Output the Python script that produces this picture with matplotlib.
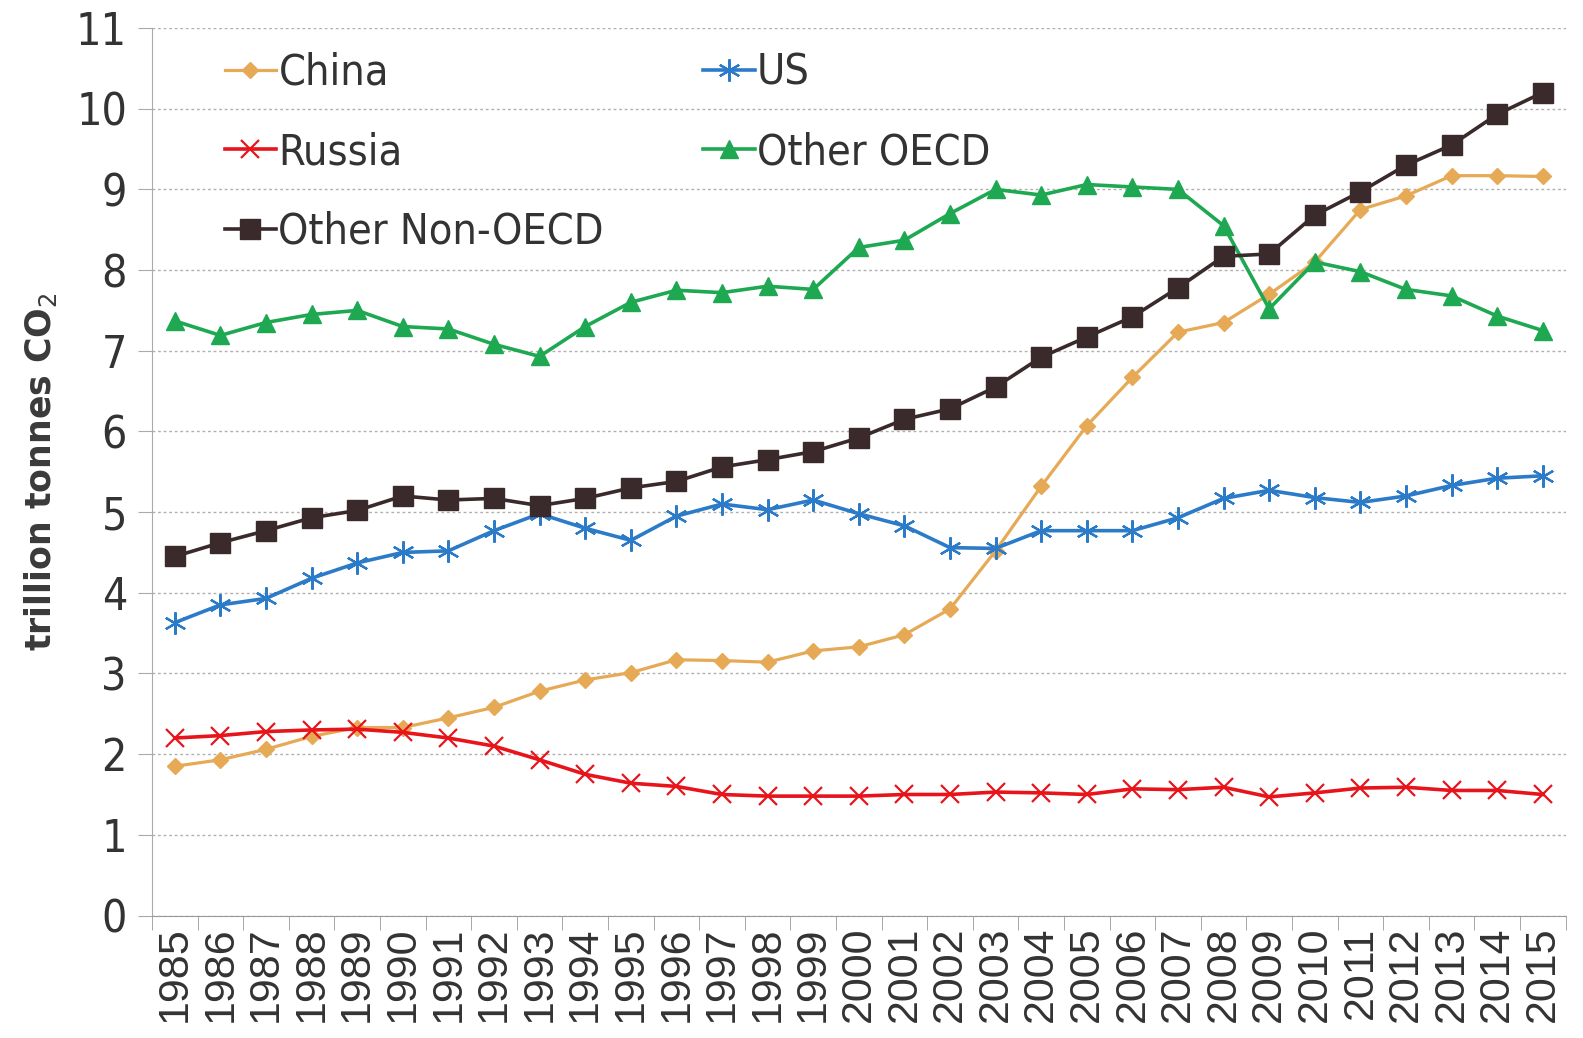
import numpy as np
import matplotlib
matplotlib.use("Agg")
import matplotlib.pyplot as plt
from matplotlib.font_manager import FontProperties

years = list(range(1985, 2016))

china = [1.85, 1.93, 2.06, 2.22, 2.33, 2.33, 2.45, 2.58, 2.78, 2.92, 3.01, 3.17, 3.16, 3.14, 3.28, 3.33,
         3.48, 3.80, 4.52, 5.32, 6.07, 6.67, 7.23, 7.35, 7.70, 8.10, 8.75, 8.92, 9.17, 9.17, 9.16]
us = [3.63, 3.85, 3.93, 4.18, 4.37, 4.50, 4.52, 4.77, 4.98, 4.80, 4.65, 4.95, 5.10, 5.03, 5.15, 4.98,
      4.83, 4.56, 4.55, 4.77, 4.77, 4.77, 4.93, 5.17, 5.27, 5.18, 5.12, 5.20, 5.33, 5.42, 5.45]
russia = [2.20, 2.23, 2.28, 2.30, 2.31, 2.27, 2.20, 2.10, 1.93, 1.75, 1.64, 1.60, 1.50, 1.48, 1.48, 1.48,
          1.50, 1.50, 1.53, 1.52, 1.50, 1.57, 1.56, 1.59, 1.47, 1.52, 1.58, 1.59, 1.55, 1.55, 1.50]
other_oecd = [7.37, 7.19, 7.35, 7.45, 7.50, 7.30, 7.27, 7.08, 6.93, 7.30, 7.60, 7.75, 7.72, 7.80, 7.76, 8.28,
              8.37, 8.70, 9.00, 8.93, 9.06, 9.03, 9.00, 8.55, 7.52, 8.10, 7.98, 7.76, 7.68, 7.43, 7.25]
other_non_oecd = [4.45, 4.62, 4.77, 4.93, 5.02, 5.20, 5.15, 5.17, 5.08, 5.17, 5.30, 5.38, 5.56, 5.65, 5.75, 5.92,
                  6.15, 6.28, 6.55, 6.92, 7.17, 7.42, 7.78, 8.17, 8.20, 8.68, 8.97, 9.30, 9.55, 9.93, 10.20]

# condensed face for legend / y ticks, like the original
cond = FontProperties(family='DejaVu Sans', stretch='condensed', size=31)
cond_y = FontProperties(family='DejaVu Sans', stretch='condensed', size=32)

fig = plt.figure(figsize=(15.83, 10.38), dpi=100)
fig.patch.set_facecolor('white')
ax = fig.add_axes([0.096, 0.118, 0.893, 0.855])

x = np.arange(len(years))
l1, = ax.plot(x, china, color='#E6A955', lw=2.3, marker='D', ms=8, label='China')
l2, = ax.plot(x, us, color='#2B7BC8', lw=2.6, marker=(6, 2, 0), ms=16, mew=1.6, label='US')
l3, = ax.plot(x, russia, color='#E8141B', lw=2.6, marker='x', ms=13, mew=1.6, label='Russia')
l4, = ax.plot(x, other_oecd, color='#1DA851', lw=2.6, marker='^', ms=13, label='Other OECD')
l5, = ax.plot(x, other_non_oecd, color='#3A2A2B', lw=2.6, marker='s', ms=14, label='Other Non-OECD')

ax.set_xlim(-0.5, len(years) - 0.5)
ax.set_ylim(0, 11)
ax.set_yticks(range(0, 12))
ax.set_yticklabels([str(v) for v in range(0, 12)], color='#333333')
for t in ax.get_yticklabels():
    t.set_fontproperties(cond_y)
ax.set_xticks(x)
ax.set_xticklabels([str(y) for y in years], rotation=90, fontsize=31, color='#333333',
                   fontfamily='Liberation Sans')
ax.set_xticks(np.arange(-0.5, len(years), 1), minor=True)
ax.tick_params(axis='x', which='major', length=0, pad=8)
ax.tick_params(axis='x', which='minor', length=10, color='#999999', direction='out')
ax.tick_params(axis='y', length=10, color='#aaaaaa', pad=8)

ax.grid(axis='y', linestyle=(0, (2, 2)), color='#b0b0b0', lw=1.0)
ax.set_axisbelow(True)
for s in ['top', 'right']:
    ax.spines[s].set_visible(False)
ax.spines['left'].set_color('#aaaaaa')
ax.spines['bottom'].set_color('#999999')

ax.set_ylabel('trillion tonnes CO$_2$', fontsize=25, fontweight='bold', color='#3a3a3a', labelpad=12)

handles = [l1, l3, l5, l2, l4]
ax.legend(handles=handles, ncol=2, loc='upper left', bbox_to_anchor=(0.024, 1.017), frameon=False,
          handlelength=1.2, handletextpad=0.05, columnspacing=2.3, labelspacing=0.87,
          prop=cond, labelcolor='#333333')

fig.savefig('out.png', dpi=100, facecolor='white')
